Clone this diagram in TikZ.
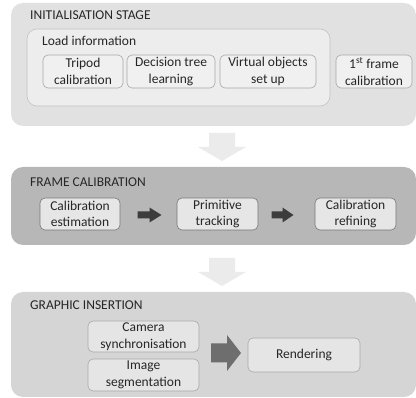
\documentclass[tikz,border=0pt]{standalone}
\usepackage{fontspec}
\setmainfont{Carlito}
\usetikzlibrary{calc}

\definecolor{panelA}{HTML}{E1E1E1}
\definecolor{panelB}{HTML}{B7B7B7}
\definecolor{panelC}{HTML}{D5D5D5}
\definecolor{boxfill}{HTML}{F0F0F0}
\definecolor{boxfillB}{HTML}{E6E6E6}
\definecolor{boxline}{HTML}{A8A8A8}
\definecolor{txt}{HTML}{262626}
\definecolor{flowgray}{HTML}{EBEBEB}
\definecolor{darkarrow}{HTML}{3C3C3C}
\definecolor{midarrow}{HTML}{6E6E6E}

\tikzset{
  panel/.style={fill=#1, draw=none, rounded corners=12pt},
  stagetitle/.style={anchor=west, inner sep=0pt, text=txt, font=\fontsize{13.5}{16}\selectfont},
  stepbox/.style={draw=boxline, fill=boxfill, rounded corners=5pt, line width=0.6pt,
    align=center, inner sep=0pt, text=txt, font=\fontsize{13.5}{16.5}\selectfont},
  % right-pointing block arrow: length, shaft height, head height, head length
  pics/rarrow/.style n args={5}{code={
    \fill[#5] (-#1/2,-#2/2) -- (#1/2-#4,-#2/2) -- (#1/2-#4,-#3/2) -- (#1/2,0)
      -- (#1/2-#4,#3/2) -- (#1/2-#4,#2/2) -- (-#1/2,#2/2) -- cycle;}},
  % downward block arrow: length, shaft width, head width, head length
  pics/darrow/.style n args={5}{code={
    \fill[#5] (-#2/2,-#1/2) -- (-#2/2,#1/2-#4) -- (-#3/2,#1/2-#4) -- (0,#1/2)
      -- (#3/2,#1/2-#4) -- (#2/2,#1/2-#4) -- (#2/2,-#1/2) -- cycle;}},
}

\begin{document}
\begin{tikzpicture}[x=1pt, y=-1pt]
\useasboundingbox (0,0) rectangle (416,398);

% ---- stage panels ----
\fill[panel=panelA] (11,3) rectangle (416,126);
\fill[panel=panelB] (11,167) rectangle (416,245);
\fill[panel=panelC] (11,292) rectangle (416,397);

% ---- initialisation stage ----
\node[stagetitle] (t1) at (30,15) {INITIALISATION STAGE};
\node[draw=boxline!70, fill=boxfill!80!panelA, rounded corners=10pt, line width=0.6pt,
      minimum width=303pt, minimum height=77pt, inner sep=0pt] (load) at (178.5,67.5) {};
\node[stagetitle] (loadt) at (42,41) {Load information};
\node[stepbox, minimum width=80pt, minimum height=33pt] (tripod) at (83,71.5) {Tripod\\calibration};
\node[stepbox, minimum width=88pt, minimum height=33pt] (dtree) at (171,71.5) {Decision tree\\learning};
\node[stepbox, minimum width=96pt, minimum height=33pt] (vobj) at (268,71.5) {Virtual objects\\set up};
\node[stepbox, minimum width=76pt, minimum height=33pt] (first) at (374,71.5) {1\textsuperscript{st} frame\\calibration};

% ---- frame calibration ----
\node[stagetitle] (t2) at (30,182) {FRAME CALIBRATION};
\node[stepbox, fill=boxfillB, draw=boxline!70!black, minimum width=80pt, minimum height=32pt] (cest) at (80,214) {Calibration\\estimation};
\node[stepbox, fill=boxfillB, draw=boxline!70!black, minimum width=81pt, minimum height=32pt] (ptrack) at (217.5,214) {Primitive\\tracking};
\node[stepbox, fill=boxfillB, draw=boxline!70!black, minimum width=81pt, minimum height=32pt] (cref) at (355.5,214) {Calibration\\refining};
\pic at ($(cest.east)!0.5!(ptrack.west)+(1,1)$) {rarrow={24}{7}{15}{12}{darkarrow}};
\pic at ($(ptrack.east)!0.5!(cref.west)+(-4,1)$) {rarrow={22}{7}{15}{11}{darkarrow}};

% ---- graphic insertion ----
\node[stagetitle] (t3) at (30,305) {GRAPHIC INSERTION};
\node[stepbox, fill=boxfill!60!panelC, minimum width=111pt, minimum height=31pt] (camsync) at (143.5,336.5) {Camera\\synchronisation};
\node[stepbox, fill=boxfill!60!panelC, minimum width=111pt, minimum height=32pt] (imseg) at (143.5,375) {Image\\segmentation};
\node[stepbox, fill=boxfill!60!panelC, minimum width=112pt, minimum height=34pt] (render) at (304,355) {Rendering};
\pic at (226,353) {rarrow={30}{19}{36}{14}{midarrow}};

% ---- flow between stages ----
\pic at (222,147) {darrow={28}{26}{48}{14}{flowgray}};
\pic at (222,272) {darrow={28}{26}{48}{14}{flowgray}};
\end{tikzpicture}
\end{document}
